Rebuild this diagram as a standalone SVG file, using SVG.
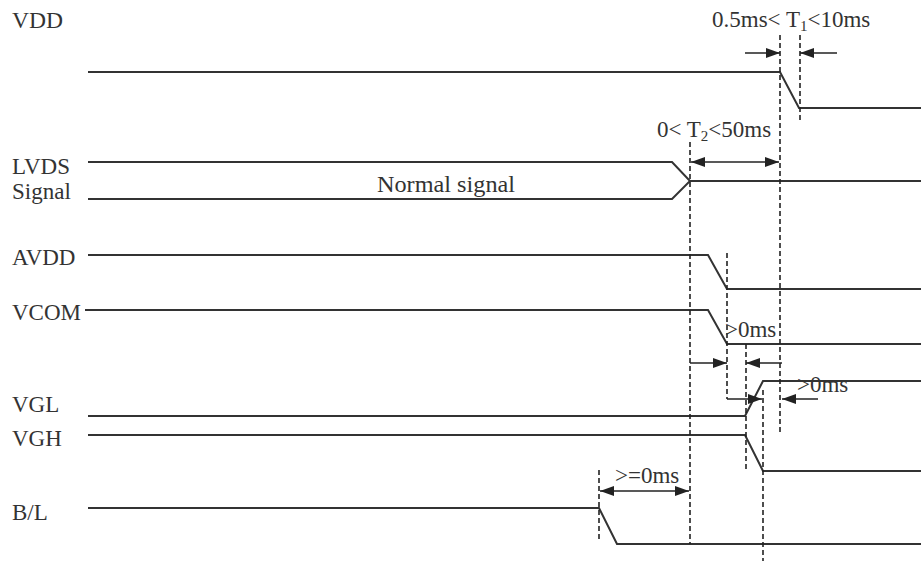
<svg xmlns="http://www.w3.org/2000/svg" width="921" height="561" viewBox="0 0 921 561">
<style>
.sig{fill:none;stroke:#333;stroke-width:2}
.dash{fill:none;stroke:#222;stroke-width:1.6;stroke-dasharray:5 3}
.arr{fill:none;stroke:#222;stroke-width:1.6}
text{font-family:"Liberation Serif","Times New Roman",serif;font-size:23px;fill:#333}
.sub{font-size:15px}
</style>
<defs>
<marker id="ah" viewBox="0 0 14 10" refX="14" refY="5" markerWidth="14" markerHeight="10" markerUnits="userSpaceOnUse" orient="auto-start-reverse">
<path d="M0,0 L14,5 L0,10 z" fill="#222"/>
</marker>
</defs>
<rect width="921" height="561" fill="#fff"/>
<g id="vdd">
<text x="12" y="28" textLength="51" lengthAdjust="spacingAndGlyphs">VDD</text>
<path class="sig" d="M88,72 H780 L799,108 H921"/>
</g>
<g id="lvds">
<text x="12" y="174">LVDS</text>
<text x="12" y="199">Signal</text>
<path class="sig" d="M88,162 H672 L690,181 L672,199 H88 M690,181 H921"/>
<text x="377" y="192" textLength="138" lengthAdjust="spacingAndGlyphs">Normal signal</text>
</g>
<g id="avdd">
<text x="12" y="265">AVDD</text>
<path class="sig" d="M88,255 H708 L727,289 H921"/>
</g>
<g id="vcom">
<text x="12" y="320">VCOM</text>
<path class="sig" d="M85,310 H708 L727,344 H921"/>
</g>
<g id="vgl">
<text x="12" y="412">VGL</text>
<path class="sig" d="M88,416 H745 L763,381 H921"/>
</g>
<g id="vgh">
<text x="12" y="446">VGH</text>
<path class="sig" d="M88,435 H745 L763,471 H921"/>
</g>
<g id="bl">
<text x="12" y="520">B/L</text>
<path class="sig" d="M88,508 H599 L617,544 H921"/>
</g>
<g id="connectors">
<path class="dash" d="M780,35 V433"/>
<path class="dash" d="M800,35 V122"/>
<path class="dash" d="M690,142 V544"/>
<path class="dash" d="M727,253 V399"/>
<path class="dash" d="M746,344 V472"/>
<path class="dash" d="M763,390 V561"/>
<path class="dash" d="M599,470 V540"/>
<line class="arr" x1="745" y1="53" x2="780" y2="53" marker-end="url(#ah)"/>
<line class="arr" x1="837" y1="53" x2="800" y2="53" marker-end="url(#ah)"/>
<line class="arr" x1="691" y1="162" x2="779" y2="162" marker-start="url(#ah)" marker-end="url(#ah)"/>
<line class="arr" x1="690" y1="363" x2="727" y2="363" marker-end="url(#ah)"/>
<line class="arr" x1="782" y1="363" x2="746" y2="363" marker-end="url(#ah)"/>
<line class="arr" x1="727" y1="399" x2="762" y2="399" marker-end="url(#ah)"/>
<line class="arr" x1="818" y1="399" x2="782" y2="399" marker-end="url(#ah)"/>
<line class="arr" x1="600" y1="491" x2="689" y2="491" marker-start="url(#ah)" marker-end="url(#ah)"/>
<text x="712" y="27">0.5ms&lt; T<tspan class="sub" dy="4">1</tspan><tspan dy="-4">&lt;10ms</tspan></text>
<text x="657" y="137">0&lt; T<tspan class="sub" dy="4">2</tspan><tspan dy="-4">&lt;50ms</tspan></text>
<text x="725" y="337">&gt;0ms</text>
<text x="797" y="392">&gt;0ms</text>
<text x="615" y="483">&gt;=0ms</text>
</g>
</svg>
